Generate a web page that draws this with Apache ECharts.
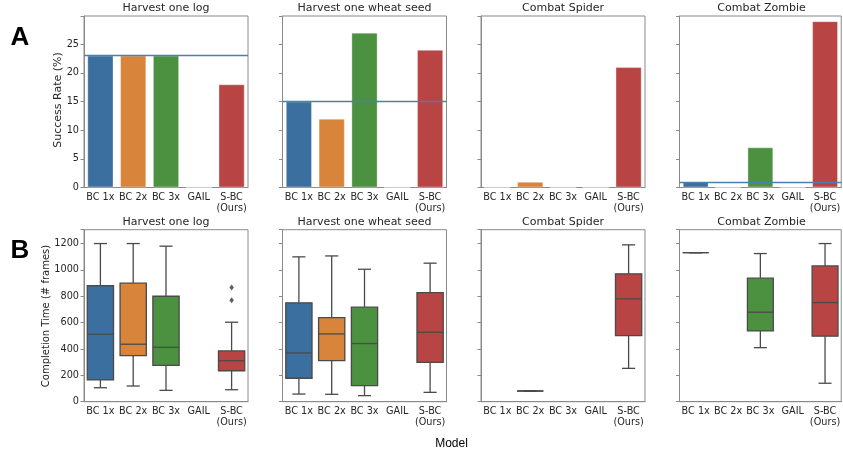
<!DOCTYPE html>
<html>
<head>
<meta charset="utf-8">
<script src="https://cdn.jsdelivr.net/npm/echarts@6/dist/echarts.min.js"></script>
<style>
  html, body { margin: 0; padding: 0; background: #fff; }
  #chart { width: 843px; height: 454px; }
</style>
</head>
<body>
<div id="chart"></div>
<script>
// == Data ====================================================================

const models = ['BC 1x', 'BC 2x', 'BC 3x', 'GAIL', 'S-BC\n(Ours)']
const tasks = ['Harvest one log', 'Harvest one wheat seed', 'Combat Spider', 'Combat Zombie']

// success rate (%) per task, one value per model
const logRates = [23, 23, 23, 0, 18]
const wheatRates = [15, 12, 27, 0, 24]
const spiderRates = [0, 1, 0, 0, 21]
const zombieRates = [1, 0, 7, 0, 29]
const baselineRates = [23, 15, null, 1]

// completion time box stats: [min, q1, median, q3, max], null = no run finished
const logTimes = [[106, 165, 512, 881, 1200], [119, 349, 436, 899, 1200], [86, 276, 413, 800, 1180], null, [91, 235, 311, 385, 603]]
const wheatTimes = [[58, 178, 370, 750, 1099], [56, 311, 514, 638, 1106], [46, 122, 441, 717, 1005], null, [71, 299, 527, 828, 1051]]
const spiderTimes = [null, [81, 81, 81, 81, 81], null, null, [253, 501, 780, 970, 1190]]
const zombieTimes = [[1131, 1131, 1131, 1131, 1131], null, [410, 537, 679, 937, 1124], null, [140, 497, 752, 1030, 1200]]
// outliers: [model index, value]
const logOutliers = [[4, 866], [4, 770]]

const rateTicks = [0, 5, 10, 15, 20, 25]
const timeTicks = [0, 200, 400, 600, 800, 1000, 1200]

// == Style ===================================================================

const palette = ['#3a6f9f', '#d9843b', '#4b9140', '#8f74ad', '#b84544']
const boxLine = '#4a4a4a'
const frame = '#8a8a8a'
const font = 'DejaVu Sans'
const lefts = [84, 282.5, 481, 679.5]
const panelW = 164

const rates = [logRates, wheatRates, spiderRates, zombieRates]
const times = [logTimes, wheatTimes, spiderTimes, zombieTimes]
const outliers = [logOutliers, [], [], []]

// == Build option ============================================================

const grids = []
const xAxes = []
const yAxes = []
const series = []
const titles = []

function axisPair (idx, col, max, ticks) {
  xAxes[idx] = {
    type: 'category',
    gridIndex: idx,
    data: models,
    axisLine: {lineStyle: {color: frame, width: 1}},
    axisTick: {alignWithLabel: true, length: 3.5, lineStyle: {color: frame}},
    axisLabel: {fontSize: 9.7, color: '#262626', fontFamily: font, margin: 4, lineHeight: 11, interval: 0}
  }
  yAxes[idx] = {
    type: 'value',
    gridIndex: idx,
    min: 0,
    max: max,
    interval: ticks[1] - ticks[0],
    splitLine: {show: false},
    axisLine: {show: true, lineStyle: {color: frame, width: 1}},
    axisTick: {show: true, length: 3.5, lineStyle: {color: frame}},
    axisLabel: {
      show: col === 0,
      fontSize: 9.7,
      color: '#262626',
      fontFamily: font,
      margin: 5,
      formatter: v => (ticks.indexOf(v) >= 0 ? String(v) : '')
    }
  }
}

function renderBox (params, api) {
  const x = api.value(0)
  const w = api.size([1, 0])[0] * 0.8
  const pMin = api.coord([x, api.value(1)])
  const pQ1 = api.coord([x, api.value(2)])
  const pMed = api.coord([x, api.value(3)])
  const pQ3 = api.coord([x, api.value(4)])
  const pMax = api.coord([x, api.value(5)])
  const cx = pMed[0]
  const lineStyle = {stroke: boxLine, lineWidth: 1.3}
  const cap = w / 4
  return {
    type: 'group',
    children: [
      {type: 'line', shape: {x1: cx, y1: pQ3[1], x2: cx, y2: pMax[1]}, style: lineStyle},
      {type: 'line', shape: {x1: cx, y1: pQ1[1], x2: cx, y2: pMin[1]}, style: lineStyle},
      {type: 'line', shape: {x1: cx - cap, y1: pMax[1], x2: cx + cap, y2: pMax[1]}, style: lineStyle},
      {type: 'line', shape: {x1: cx - cap, y1: pMin[1], x2: cx + cap, y2: pMin[1]}, style: lineStyle},
      {
        type: 'rect',
        shape: {x: cx - w / 2, y: pQ3[1], width: w, height: pQ1[1] - pQ3[1]},
        style: {fill: palette[x], stroke: boxLine, lineWidth: 1.3}
      },
      {type: 'line', shape: {x1: cx - w / 2, y1: pMed[1], x2: cx + w / 2, y2: pMed[1]}, style: lineStyle}
    ]
  }
}

tasks.forEach((task, col) => {
  // -- top row: success rate bars
  const top = col
  grids[top] = {left: lefts[col], top: 16, width: panelW, height: 171.5, show: true, borderColor: frame, borderWidth: 1}
  axisPair(top, col, 29.9, rateTicks)
  const bar = {
    type: 'bar',
    xAxisIndex: top,
    yAxisIndex: top,
    barWidth: '80%',
    data: rates[col],
    itemStyle: {color: p => palette[p.dataIndex], borderColor: 'rgba(255,255,255,0.35)', borderWidth: 1},
    silent: true
  }
  if (baselineRates[col] !== null) {
    bar.markLine = {
      silent: true,
      symbol: 'none',
      label: {show: false},
      lineStyle: {color: '#4a7fb0', width: 1.4, type: 'solid'},
      data: [{yAxis: baselineRates[col]}]
    }
  }
  series.push(bar)
  titles.push({
    text: task, left: lefts[col] + panelW / 2, top: 3, textAlign: 'center', padding: 0,
    textStyle: {fontSize: 11, fontWeight: 'normal', color: '#262626', fontFamily: font}
  })

  // -- bottom row: completion time boxes
  const bot = col + 4
  grids[bot] = {left: lefts[col], top: 229.7, width: panelW, height: 172, show: true, borderColor: frame, borderWidth: 1}
  axisPair(bot, col, 1305, timeTicks)
  const boxData = []
  times[col].forEach((s, i) => {
    if (s) boxData.push([i].concat(s))
  })
  series.push({
    type: 'custom',
    xAxisIndex: bot,
    yAxisIndex: bot,
    renderItem: renderBox,
    encode: {x: 0, y: [1, 2, 3, 4, 5]},
    data: boxData,
    silent: true
  })
  if (outliers[col].length) {
    series.push({
      type: 'scatter',
      xAxisIndex: bot,
      yAxisIndex: bot,
      symbol: 'diamond',
      symbolSize: [4.5, 6],
      itemStyle: {color: '#3a3a3a'},
      data: outliers[col],
      silent: true
    })
  }
  titles.push({
    text: task, left: lefts[col] + panelW / 2, top: 216.5, textAlign: 'center', padding: 0,
    textStyle: {fontSize: 11, fontWeight: 'normal', color: '#262626', fontFamily: font}
  })
})

const option = {
  animation: false,
  backgroundColor: '#fff',
  title: titles,
  grid: grids,
  xAxis: xAxes,
  yAxis: yAxes,
  series: series,
  graphic: [
    {type: 'text', x: 20, y: 38, style: {text: 'A', font: 'bold 26px "Liberation Sans"', fill: '#000', textAlign: 'center', textVerticalAlign: 'middle'}},
    {type: 'text', x: 20, y: 251, style: {text: 'B', font: 'bold 26px "Liberation Sans"', fill: '#000', textAlign: 'center', textVerticalAlign: 'middle'}},
    {type: 'text', x: 451.5, y: 444, style: {text: 'Model', font: '12px "Liberation Sans"', fill: '#000', textAlign: 'center', textVerticalAlign: 'middle'}},
    {type: 'text', x: 58.5, y: 100, rotation: Math.PI / 2, style: {text: 'Success Rate (%)', font: '11px "DejaVu Sans"', fill: '#262626', textAlign: 'center', textVerticalAlign: 'middle'}},
    {type: 'text', x: 46.5, y: 316, rotation: Math.PI / 2, style: {text: 'Completion Time (# frames)', font: '10px "DejaVu Sans"', fill: '#262626', textAlign: 'center', textVerticalAlign: 'middle'}}
  ]
}

const myChart = echarts.init(document.getElementById('chart'))
myChart.setOption(option)
</script>
</body>
</html>
